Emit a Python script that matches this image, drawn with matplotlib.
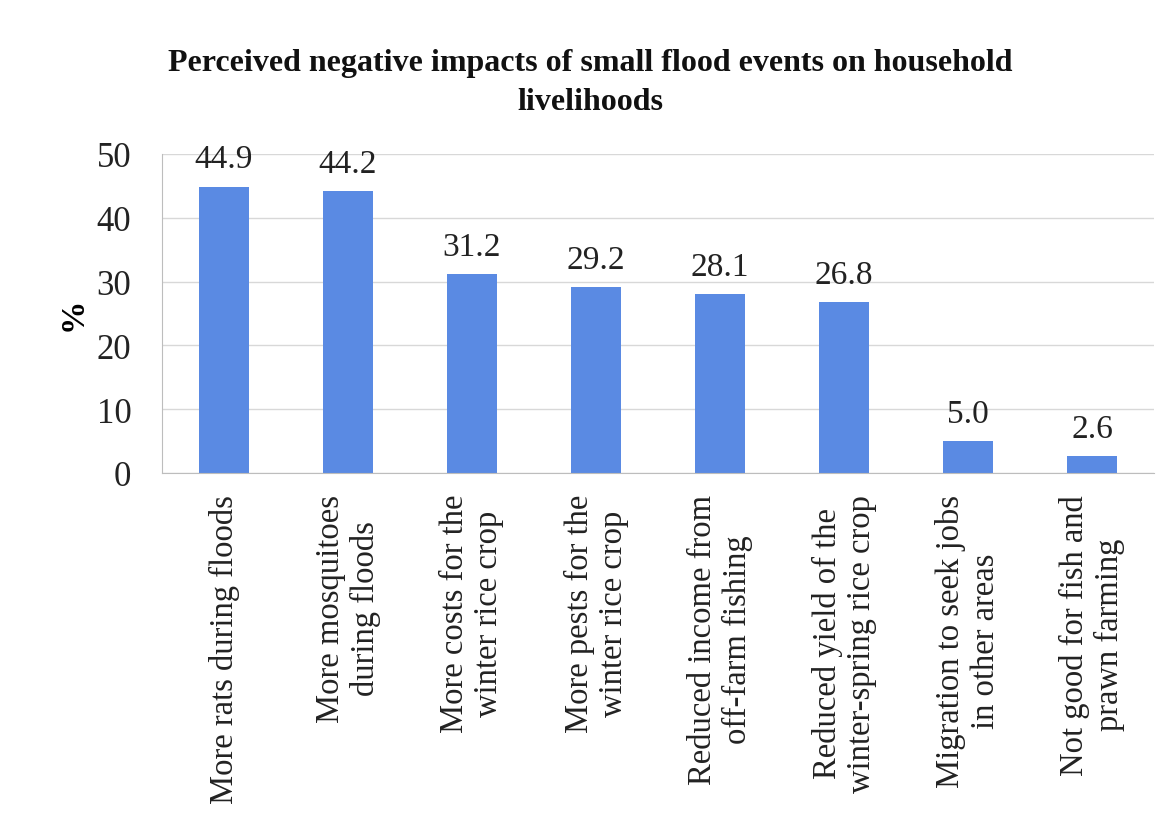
import matplotlib
matplotlib.use("Agg")
import matplotlib.pyplot as plt

categories = [
    "More rats during floods",
    "More mosquitoes\nduring floods",
    "More costs for the\nwinter rice crop",
    "More pests for the\nwinter rice crop",
    "Reduced income from\noff-farm fishing",
    "Reduced yield of the\nwinter-spring rice crop",
    "Migration to seek jobs\nin other areas",
    "Not good for fish and\nprawn farming",
]
values = [44.9, 44.2, 31.2, 29.2, 28.1, 26.8, 5.0, 2.6]
yticks = [0, 10, 20, 30, 40, 50]

plt.rcParams["font.family"] = ["Liberation Serif", "DejaVu Serif"]

fig = plt.figure(figsize=(11.73, 8.28), dpi=100)
ax = fig.add_axes([162 / 1173, 1 - 474 / 828, 992 / 1173, 319 / 828])

x = range(len(categories))
ax.bar(x, values, width=0.4, color="#5a8ae3", zorder=2)

for xi, v in zip(x, values):
    ax.text(xi, v + 1.9, f"{v:.1f}", ha="center", va="bottom",
            fontsize=24, color="#222222")

ax.set_xlim(-0.5, len(categories) - 0.5)
ax.set_ylim(0, 50)
ax.set_yticks(yticks)
ax.set_yticklabels([str(t) for t in yticks], fontsize=25, color="#222222")
ax.set_xticks(list(x))
ax.set_xticklabels(categories, rotation=90, fontsize=23.5, ha="center",
                   va="top", multialignment="center", linespacing=1.15,
                   color="#222222")
ax.tick_params(axis="x", length=0, pad=15)
ax.tick_params(axis="y", length=0, pad=22)

ax.grid(axis="y", color="#d8d8d8", linewidth=1.0, zorder=0)
for side in ["top", "right"]:
    ax.spines[side].set_visible(False)
ax.spines["left"].set_color("#bdbdbd")
ax.spines["bottom"].set_color("#bdbdbd")

ax.set_ylabel("%", fontsize=24, fontweight="bold", labelpad=6)

fig.text(0.503, 0.900,
         "Perceived negative impacts of small flood events on household\nlivelihoods",
         ha="center", va="center", fontsize=23, fontweight="bold",
         linespacing=1.45, color="#111111")

fig.savefig("out.png", dpi=100, facecolor="white")
